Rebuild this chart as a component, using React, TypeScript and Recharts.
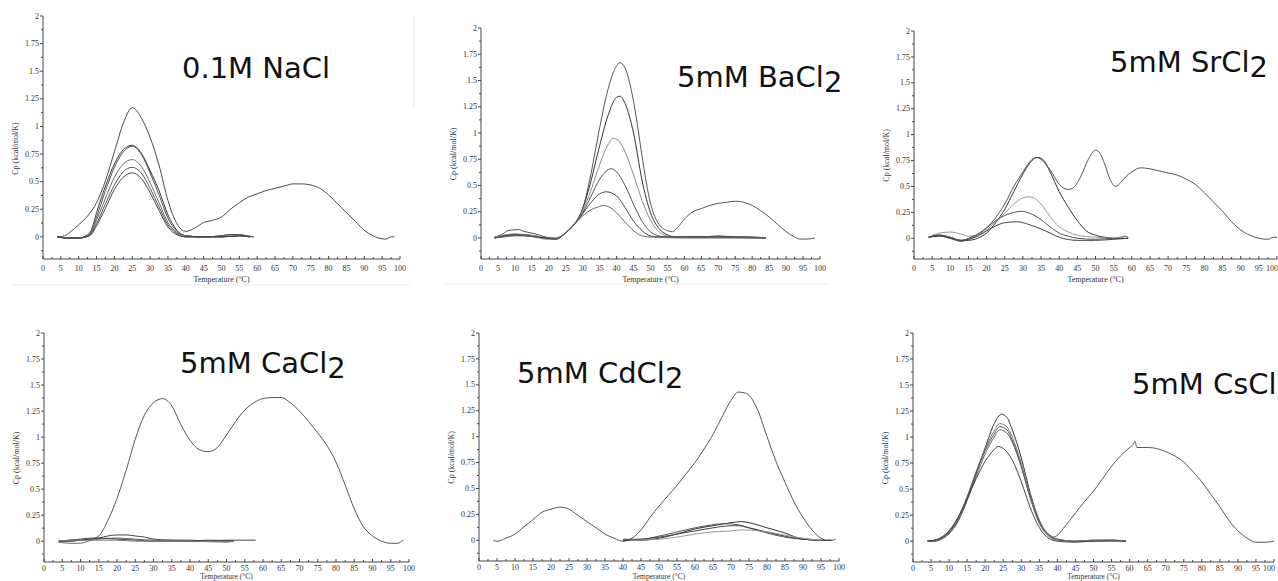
import { Line, LineChart, XAxis, YAxis } from "recharts";

type Scan = [number, number][];

const xTicks = [0, 2.5, 5, 7.5, 10, 12.5, 15, 17.5, 20, 22.5, 25, 27.5, 30, 32.5, 35, 37.5, 40, 42.5, 45, 47.5, 50, 52.5, 55, 57.5, 60, 62.5, 65, 67.5, 70, 72.5, 75, 77.5, 80, 82.5, 85, 87.5, 90, 92.5, 95, 97.5, 100];
const yTicks = [-0.125, 0, 0.125, 0.25, 0.375, 0.5, 0.625, 0.75, 0.875, 1, 1.125, 1.25, 1.375, 1.5, 1.625, 1.75, 1.875, 2];

// 0.1M NaCl
const naclFull: Scan = [[4, 0], [6, 0.01], [7.5, 0.04], [10, 0.11], [12.5, 0.19], [15, 0.31], [17.5, 0.51], [20, 0.77], [22.5, 1.03], [25, 1.17], [27.5, 1.08], [30, 0.9], [32.5, 0.65], [35, 0.33], [37.5, 0.12], [40, 0.05], [42.5, 0.08], [45, 0.13], [47.5, 0.15], [50, 0.18], [52.5, 0.25], [55, 0.31], [57.5, 0.36], [60, 0.39], [62.5, 0.42], [65, 0.44], [67.5, 0.46], [70, 0.48], [72.5, 0.48], [75, 0.47], [77.5, 0.44], [80, 0.38], [82.5, 0.3], [85, 0.22], [87.5, 0.14], [90, 0.06], [92.5, 0.01], [94, -0.01], [96, -0.02], [97.5, 0], [98.5, 0]];
const nacl2: Scan = [[4, 0], [7, -0.01], [10, -0.01], [12, 0.01], [13.5, 0.06], [15, 0.22], [17.5, 0.46], [20, 0.66], [22.5, 0.79], [25, 0.83], [27.5, 0.76], [30, 0.6], [32.5, 0.42], [35, 0.2], [37.5, 0.06], [40, 0.01], [45, 0], [50, 0.01], [52.5, 0.02], [55, 0.02], [57, 0.01], [59, 0]];
const nacl3: Scan = [[4, 0], [7, -0.01], [10, -0.01], [12, 0], [13.5, 0.05], [15, 0.18], [17.5, 0.42], [20, 0.63], [22.5, 0.77], [25, 0.82], [27.5, 0.75], [30, 0.58], [32.5, 0.38], [35, 0.17], [37.5, 0.05], [40, 0.01], [45, 0], [50, 0.01], [52.5, 0.02], [55, 0.02], [57, 0.01], [59, 0]];
const nacl4: Scan = [[4, 0], [7, -0.01], [10, -0.01], [12, 0], [13.5, 0.04], [15, 0.15], [17.5, 0.35], [20, 0.54], [22.5, 0.66], [25, 0.7], [27.5, 0.64], [30, 0.49], [32.5, 0.31], [35, 0.13], [37.5, 0.04], [40, 0.01], [45, 0], [50, 0], [55, 0.01], [58, 0]];
const nacl5: Scan = [[4, 0], [7, -0.01], [10, -0.01], [12, 0], [13.5, 0.03], [15, 0.12], [17.5, 0.3], [20, 0.47], [22.5, 0.59], [25, 0.63], [27.5, 0.58], [30, 0.44], [32.5, 0.27], [35, 0.11], [37.5, 0.03], [40, 0], [45, 0], [50, 0], [55, 0.01], [58, 0]];
const nacl6: Scan = [[4, 0], [7, -0.01], [10, -0.01], [12, 0], [13.5, 0.02], [15, 0.1], [17.5, 0.26], [20, 0.43], [22.5, 0.54], [25, 0.58], [27.5, 0.53], [30, 0.4], [32.5, 0.24], [35, 0.09], [37.5, 0.02], [40, 0], [45, 0], [50, 0], [55, 0.01], [58, 0]];

// 5mM BaCl2
const baFull: Scan = [[4, 0.01], [6, 0.03], [8, 0.07], [11, 0.08], [13, 0.06], [16, 0.04], [19, 0.01], [22, 0], [25, 0.05], [27.5, 0.13], [30, 0.28], [32.5, 0.62], [35, 1.05], [37.5, 1.42], [40, 1.64], [41, 1.67], [42.5, 1.62], [45, 1.3], [46.5, 1.0], [47.5, 0.78], [50, 0.33], [52.5, 0.13], [55, 0.07], [56.5, 0.06], [58, 0.1], [60, 0.18], [62.5, 0.25], [65, 0.28], [67.5, 0.31], [70, 0.33], [72.5, 0.34], [75, 0.35], [77.5, 0.34], [80, 0.31], [82.5, 0.26], [85, 0.2], [87.5, 0.13], [90, 0.06], [92.5, 0.01], [94, -0.01], [96, -0.01], [98.5, 0]];
const ba2: Scan = [[4, 0], [7, 0.02], [10, 0.03], [13, 0.03], [16, 0.02], [19, 0], [22, -0.01], [25, 0.05], [27.5, 0.13], [30, 0.28], [32.5, 0.55], [35, 0.88], [37.5, 1.17], [40, 1.34], [41, 1.35], [42.5, 1.28], [45, 1.0], [47.5, 0.55], [50, 0.24], [52.5, 0.09], [55, 0.03], [57.5, 0.01], [60, 0.01], [65, 0.01], [70, 0.02], [75, 0.01], [80, 0.01], [84, 0]];
const ba3: Scan = [[4, 0.01], [7, 0.03], [10, 0.04], [13, 0.03], [16, 0.02], [19, 0], [22, -0.01], [25, 0.05], [27.5, 0.13], [30, 0.26], [32.5, 0.46], [35, 0.7], [37.5, 0.89], [39, 0.95], [40.5, 0.93], [42.5, 0.82], [45, 0.6], [47.5, 0.36], [50, 0.17], [52.5, 0.06], [55, 0.02], [60, 0.01], [70, 0.01], [80, 0], [84, 0]];
const ba4: Scan = [[4, 0], [7, 0.02], [10, 0.03], [13, 0.03], [16, 0.01], [19, 0], [22, -0.01], [25, 0.05], [27.5, 0.13], [30, 0.24], [32.5, 0.4], [35, 0.56], [37.5, 0.65], [38.5, 0.66], [40, 0.63], [42.5, 0.5], [45, 0.32], [47.5, 0.16], [50, 0.06], [52.5, 0.02], [55, 0.01], [65, 0.01], [75, 0.01], [84, 0]];
const ba5: Scan = [[4, 0], [7, 0.02], [10, 0.03], [13, 0.02], [16, 0.01], [19, 0], [22, -0.01], [25, 0.05], [27.5, 0.13], [30, 0.23], [32.5, 0.34], [35, 0.42], [37, 0.44], [40, 0.4], [42.5, 0.29], [45, 0.16], [47.5, 0.07], [50, 0.02], [52.5, 0.01], [60, 0.01], [70, 0.01], [84, 0]];
const ba6: Scan = [[4, 0], [7, 0.01], [10, 0.02], [13, 0.02], [16, 0.01], [19, -0.01], [22, -0.01], [25, 0.05], [27.5, 0.13], [30, 0.21], [32.5, 0.27], [35, 0.3], [36, 0.31], [37.5, 0.3], [40, 0.24], [42.5, 0.15], [45, 0.07], [47.5, 0.02], [50, 0.01], [60, 0], [70, 0], [84, 0]];

// 5mM SrCl2
const srFull: Scan = [[4, 0.01], [7, 0.03], [10, 0.01], [13, -0.02], [15, -0.01], [17.5, 0.03], [20, 0.1], [22.5, 0.2], [25, 0.33], [27.5, 0.5], [30, 0.64], [32.5, 0.76], [33.5, 0.78], [35, 0.76], [37.5, 0.66], [40, 0.52], [42.5, 0.47], [44, 0.49], [46, 0.6], [48, 0.76], [50, 0.85], [51, 0.83], [52.5, 0.72], [54, 0.57], [55.5, 0.5], [57, 0.54], [58.5, 0.6], [60, 0.64], [62.5, 0.68], [65, 0.67], [67.5, 0.65], [70, 0.63], [72.5, 0.61], [75, 0.57], [77.5, 0.52], [80, 0.44], [82.5, 0.35], [85, 0.26], [87.5, 0.16], [90, 0.08], [92.5, 0.03], [95, 0], [97.5, -0.01], [99, 0.01], [100, 0.01]];
const sr2: Scan = [[4, 0.01], [7, 0.02], [10, 0], [13, -0.02], [15, -0.02], [17.5, 0], [20, 0.05], [22.5, 0.15], [25, 0.28], [27.5, 0.45], [30, 0.62], [32.5, 0.75], [34, 0.78], [35.5, 0.76], [37.5, 0.64], [40, 0.45], [42.5, 0.3], [45, 0.17], [47.5, 0.07], [50, 0.03], [52.5, 0.01], [55, 0], [57, 0], [58, 0.02], [59, 0.01]];
const sr3: Scan = [[4, 0.01], [7, 0.05], [10, 0.06], [13, 0.04], [15, 0.02], [17.5, 0.03], [20, 0.08], [22.5, 0.16], [25, 0.24], [27.5, 0.33], [30, 0.39], [31.5, 0.4], [33, 0.39], [35, 0.33], [37.5, 0.21], [40, 0.11], [42.5, 0.06], [45, 0.03], [50, 0.01], [55, 0], [58, 0.02], [59, 0.01]];
const sr4: Scan = [[4, 0.01], [7, 0.03], [10, 0.01], [13, -0.02], [15, 0], [17.5, 0.04], [20, 0.1], [22.5, 0.17], [25, 0.22], [27.5, 0.25], [29.5, 0.26], [32, 0.24], [35, 0.18], [37.5, 0.11], [40, 0.05], [42.5, 0.02], [45, 0], [50, -0.01], [55, 0], [59, 0]];
const sr5: Scan = [[4, 0.01], [7, 0.03], [10, 0], [13, -0.03], [15, -0.01], [17.5, 0.02], [20, 0.07], [22.5, 0.12], [25, 0.15], [28.5, 0.16], [31, 0.14], [35, 0.09], [37.5, 0.05], [40, 0.01], [45, -0.02], [50, -0.02], [55, -0.01], [59, 0]];

// 5mM CaCl2
const caFull: Scan = [[4, 0], [7, 0], [10, 0.01], [13, 0.02], [15, 0.05], [17.5, 0.2], [20, 0.41], [22.5, 0.68], [25, 0.98], [27.5, 1.21], [30, 1.33], [32.5, 1.37], [35, 1.3], [37.5, 1.12], [40, 0.97], [42.5, 0.88], [45, 0.86], [47.5, 0.9], [50, 1.02], [52.5, 1.15], [55, 1.26], [57.5, 1.33], [60, 1.37], [62.5, 1.38], [65, 1.38], [67.5, 1.33], [70, 1.25], [72.5, 1.15], [75, 1.04], [77.5, 0.92], [80, 0.76], [82.5, 0.54], [85, 0.31], [87.5, 0.14], [90, 0.05], [92.5, 0], [95, -0.02], [97, -0.02], [98, 0], [98.5, 0.01]];
const ca2: Scan = [[4, 0], [7, 0], [10, 0.01], [13, 0.02], [15, 0.03], [17.5, 0.05], [20, 0.06], [22.5, 0.06], [25, 0.05], [27.5, 0.04], [30, 0.02], [35, 0.01], [40, 0.01], [45, 0], [50, 0.01], [55, 0.01], [58, 0.01]];
const ca3: Scan = [[4, -0.01], [7, -0.02], [10, -0.02], [12, 0], [15, 0.02], [20, 0.03], [25, 0.02], [30, 0.01], [35, 0.01], [40, 0], [45, 0], [52, 0]];
const ca4: Scan = [[4, 0], [7, 0.01], [10, 0.02], [13, 0.03], [15, 0.03], [20, 0.02], [25, 0.01], [30, 0], [35, 0], [40, 0], [45, 0.01], [52, 0]];
const ca5: Scan = [[4, 0], [8, 0.01], [12, 0.01], [16, 0.01], [20, 0.01], [25, 0], [30, 0], [40, 0], [50, -0.01], [52, 0]];

// 5mM CdCl2
const cdFull: Scan = [[4, 0], [5, -0.01], [7.5, 0.02], [10, 0.06], [12.5, 0.13], [15, 0.2], [17.5, 0.27], [20, 0.3], [22.5, 0.32], [25, 0.3], [27.5, 0.24], [30, 0.18], [32.5, 0.12], [35, 0.06], [37.5, 0.02], [40, -0.01], [42.5, 0.02], [45, 0.1], [47.5, 0.22], [50, 0.33], [52.5, 0.43], [55, 0.53], [57.5, 0.64], [60, 0.75], [62.5, 0.88], [65, 1.02], [67.5, 1.19], [70, 1.35], [72, 1.43], [74, 1.42], [75.5, 1.38], [77.5, 1.25], [80, 1.0], [82.5, 0.76], [85, 0.56], [87.5, 0.37], [90, 0.22], [92.5, 0.1], [95, 0.02], [96.5, 0], [98, 0], [99, 0.01]];
const cd2: Scan = [[40, 0], [45, 0], [50, 0.02], [55, 0.06], [60, 0.11], [65, 0.14], [70, 0.17], [73, 0.18], [75, 0.17], [80, 0.12], [85, 0.07], [88, 0.03], [90, 0.01], [95, 0], [98, 0]];
const cd3: Scan = [[40, 0.01], [45, 0.01], [50, 0.04], [55, 0.08], [60, 0.12], [65, 0.15], [68, 0.16], [72, 0.15], [75, 0.12], [80, 0.07], [85, 0.03], [90, 0.01], [95, 0]];
const cd4: Scan = [[40, 0], [45, 0.01], [50, 0.03], [55, 0.06], [60, 0.09], [65, 0.12], [70, 0.14], [72, 0.14], [75, 0.12], [80, 0.08], [85, 0.04], [90, 0.01], [96, 0]];
const cd5: Scan = [[42, 0], [50, 0.01], [55, 0.03], [60, 0.06], [65, 0.08], [70, 0.09], [73, 0.1], [78, 0.09], [82, 0.07], [88, 0.03], [95, 0]];

// 5mM CsCl
const cs1: Scan = [[4, 0], [6, 0], [8, 0.03], [10, 0.08], [12.5, 0.2], [15, 0.4], [17.5, 0.65], [20, 0.9], [22.5, 1.13], [24.5, 1.22], [26, 1.19], [27.5, 1.07], [30, 0.8], [32.5, 0.46], [35, 0.2], [37.5, 0.06], [40, 0.02], [45, 0], [50, 0.01], [55, 0.01], [59, 0]];
const cs2: Scan = [[4, 0], [6, 0.01], [8, 0.04], [10, 0.1], [12.5, 0.23], [15, 0.43], [17.5, 0.67], [20, 0.89], [22.5, 1.06], [24, 1.13], [26, 1.1], [27.5, 1.0], [30, 0.75], [32.5, 0.44], [35, 0.19], [37.5, 0.06], [40, 0.02], [45, 0], [50, 0.01], [55, 0.01], [59, 0]];
const csFull: Scan = [[4, 0], [6, 0.01], [8, 0.03], [10, 0.09], [12.5, 0.22], [15, 0.42], [17.5, 0.66], [20, 0.87], [22.5, 1.03], [24, 1.1], [26, 1.07], [27.5, 0.97], [30, 0.72], [32.5, 0.42], [35, 0.18], [37.5, 0.07], [39, 0.04], [42.5, 0.16], [45, 0.27], [47.5, 0.38], [50, 0.48], [52.5, 0.6], [55, 0.72], [57.5, 0.82], [60, 0.9], [61, 0.93], [61.5, 0.96], [62, 0.9], [63.5, 0.9], [65, 0.9], [67.5, 0.89], [70, 0.86], [72.5, 0.82], [75, 0.76], [77.5, 0.67], [80, 0.57], [82.5, 0.45], [85, 0.33], [87.5, 0.2], [90, 0.1], [92.5, 0.03], [95, -0.01], [97.5, -0.01], [100, 0]];
const cs4: Scan = [[4, 0], [6, 0], [8, 0.02], [10, 0.07], [12.5, 0.19], [15, 0.39], [17.5, 0.62], [20, 0.84], [22.5, 1.0], [24, 1.07], [26, 1.04], [27.5, 0.95], [30, 0.71], [32.5, 0.41], [35, 0.17], [37.5, 0.05], [40, 0.01], [45, 0], [50, 0], [55, 0.01], [59, 0]];
const cs5: Scan = [[4, 0], [6, 0.01], [8, 0.04], [10, 0.1], [12.5, 0.23], [15, 0.41], [17.5, 0.6], [20, 0.77], [22.5, 0.88], [23.5, 0.91], [25, 0.89], [27.5, 0.78], [30, 0.57], [32.5, 0.32], [35, 0.13], [37.5, 0.03], [40, 0], [45, -0.01], [50, 0], [55, 0], [59, 0]];

const panels = [
  { salt: "0.1M NaCl", sub: "", scans: [naclFull, nacl2, nacl3, nacl4, nacl5, nacl6] },
  { salt: "5mM BaCl", sub: "2", scans: [baFull, ba2, ba3, ba4, ba5, ba6] },
  { salt: "5mM SrCl", sub: "2", scans: [srFull, sr2, sr3, sr4, sr5] },
  { salt: "5mM CaCl", sub: "2", scans: [caFull, ca2, ca3, ca4, ca5] },
  { salt: "5mM CdCl", sub: "2", scans: [cdFull, cd2, cd3, cd4, cd5] },
  { salt: "5mM CsCl", sub: "", scans: [cs1, cs2, csFull, cs4, cs5] },
];

// pixel frame of each plot area (value 2 at top, -0.2 at bottom, 0..100 across)
const frames = [
  { left: 43, right: 400, top: 16, bottom: 259, row: 0, tx: 182, ty: 78 },
  { left: 481, right: 820, top: 28, bottom: 259, row: 0, tx: 677, ty: 87 },
  { left: 914, right: 1277, top: 31, bottom: 259, row: 0, tx: 1110, ty: 72 },
  { left: 44, right: 409, top: 333, bottom: 562, row: 1, tx: 180, ty: 373 },
  { left: 479, right: 839, top: 333, bottom: 561, row: 1, tx: 517, ty: 383 },
  { left: 913, right: 1274, top: 333, bottom: 562, row: 1, tx: 1132, ty: 394 },
];

const inks = [
  ["#4a4a4a", "#3a3a3a", "#505050", "#6a6a6a", "#555", "#444"],
  ["#555", "#333", "#8a8a8a", "#555", "#444", "#666"],
  ["#555", "#333", "#999", "#555", "#444"],
  ["#555", "#444", "#666", "#444", "#777"],
  ["#555", "#333", "#555", "#444", "#999"],
  ["#333", "#777", "#555", "#666", "#444"],
];

const axisInk = "#444";
const serif = "'Liberation Serif', 'DejaVu Serif', serif";
const AXIS_W = 40;
const PAGE_W = 1278;

const toPts = (s: Scan) => s.map(([t, cp]) => ({ t, cp }));

function XTick({ x, y, payload, limit, gap }: any) {
  const v = payload.value;
  const major = Math.abs(v / 5 - Math.round(v / 5)) < 1e-6;
  // a label that would run off the page is pulled in to end at the tick
  const atEdge = x + 7 > limit;
  return (
    <g>
      <line x1={x} x2={x} y1={y} y2={y - (major ? 3 : 2)} stroke={axisInk} />
      {major && (
        <text
          x={atEdge ? x + 1 : x}
          y={y + gap}
          dy="0.33em"
          textAnchor={atEdge ? "end" : "middle"}
          fontSize={8}
          fontFamily={serif}
          fill="#333"
        >
          {v}
        </text>
      )}
    </g>
  );
}

function YTick({ x, y, payload }: any) {
  const v = payload.value;
  const major = Math.abs(v * 4 - Math.round(v * 4)) < 1e-6;
  return (
    <g>
      <line x1={x - (major ? 3 : 2)} x2={x} y1={y} y2={y} stroke={axisInk} />
      {major && (
        <text x={x - 4} y={y} dy="0.33em" textAnchor="end" fontSize={8} fontFamily={serif} fill="#333">
          {v}
        </text>
      )}
    </g>
  );
}

function Panel({ i }: { i: number }) {
  const f = frames[i];
  const p = panels[i];
  const top0 = f.row === 0 ? 0 : 290;
  const h = f.row === 0 ? 290 : 291;
  const left0 = f.left - AXIS_W;
  const gap = f.row === 0 ? 9 : 6;
  return (
    <div style={{ position: "absolute", left: left0, top: top0 }}>
      <LineChart
        width={f.right - f.left + AXIS_W + 6}
        height={h}
        margin={{ top: f.top - top0, right: 6, bottom: 0, left: 0 }}
      >
        <XAxis
          type="number"
          dataKey="t"
          domain={[0, 100]}
          ticks={xTicks}
          interval={0}
          height={top0 + h - f.bottom}
          tickSize={0}
          tickMargin={0}
          tickLine={false}
          tick={(props: any) => <XTick {...props} limit={PAGE_W - left0} gap={gap} />}
          stroke={axisInk}
          allowDataOverflow
        />
        <YAxis
          type="number"
          domain={[-0.2, 2]}
          ticks={yTicks}
          interval={0}
          width={AXIS_W}
          tickSize={0}
          tickMargin={0}
          tickLine={false}
          tick={(props: any) => <YTick {...props} />}
          stroke={axisInk}
          allowDataOverflow
        />
        {p.scans.map((s, k) => (
          <Line
            key={k}
            data={toPts(s)}
            dataKey="cp"
            type="monotone"
            dot={false}
            activeDot={false}
            stroke={inks[i][k]}
            strokeWidth={1}
            isAnimationActive={false}
          />
        ))}
      </LineChart>
    </div>
  );
}

export default function App() {
  return (
    <div
      style={{
        position: "absolute",
        left: 0,
        top: 0,
        width: PAGE_W,
        height: 581,
        overflow: "hidden",
        background: "#fff",
      }}
    >
      {panels.map((_, i) => (
        <Panel key={i} i={i} />
      ))}
      <svg width={PAGE_W} height={581} style={{ position: "absolute", left: 0, top: 0, pointerEvents: "none" }}>
        {/* faint scan borders from the source figure */}
        <line x1={414} x2={414} y1={15} y2={107} stroke="#e2e2e2" />
        <line x1={12} x2={410} y1={285} y2={285} stroke="#ececec" />
        <line x1={445} x2={829} y1={284} y2={284} stroke="#ececec" />
        {frames.map((f, i) => {
          const plotH = f.bottom - f.top;
          const yc = f.top + ((2 - 0.8) / 2.2) * plotH;
          const bottomRow = f.row === 1;
          return (
            <g key={i}>
              <text
                transform={`translate(${f.left - 28}, ${yc}) rotate(-90)`}
                dy="0.33em"
                textAnchor="middle"
                fontSize={8}
                fontFamily={serif}
                fill="#333"
              >
                Cp (kcal/mol/K)
              </text>
              <text
                x={(f.left + f.right) / 2}
                y={bottomRow ? 576.5 : f.bottom + 20}
                dy="0.33em"
                textAnchor="middle"
                fontSize={bottomRow ? 7.5 : 8}
                fontFamily={serif}
                fill="#333"
              >
                Temperature (°C)
              </text>
              <text x={f.tx} y={f.ty} fontSize={29} fontFamily="'DejaVu Sans', sans-serif" fill="#111">
                {panels[i].salt}
                {panels[i].sub && <tspan dy={5}>{panels[i].sub}</tspan>}
              </text>
            </g>
          );
        })}
      </svg>
    </div>
  );
}
